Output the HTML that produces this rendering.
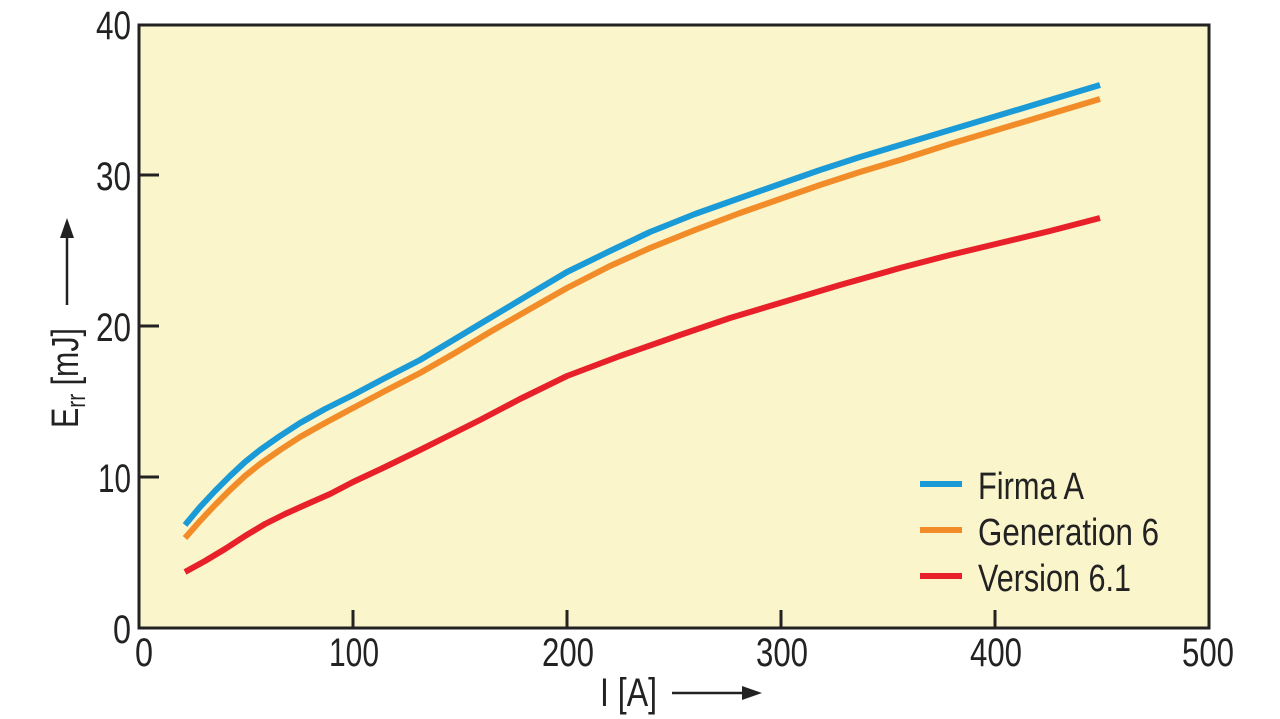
<!DOCTYPE html>
<html><head><meta charset="utf-8"><style>body{margin:0;background:#fff}svg{display:block}text{font-family:"Liberation Sans",sans-serif;fill:#222}</style></head><body>
<svg width="1280" height="719" viewBox="0 0 1280 719">
<rect x="139" y="25" width="1070" height="603" fill="#faf5cb" stroke="#222" stroke-width="3"/>
<g stroke="#222" stroke-width="3">
<line x1="139" y1="477" x2="159" y2="477"/><line x1="139" y1="326" x2="159" y2="326"/><line x1="139" y1="175" x2="159" y2="175"/>
<line x1="353" y1="628" x2="353" y2="610"/><line x1="567" y1="628" x2="567" y2="610"/><line x1="781" y1="628" x2="781" y2="610"/><line x1="995" y1="628" x2="995" y2="610"/>
</g>
<g font-size="40">
<text x="96" y="39" textLength="35" lengthAdjust="spacingAndGlyphs">40</text>
<text x="96" y="190" textLength="35" lengthAdjust="spacingAndGlyphs">30</text>
<text x="96" y="341" textLength="35" lengthAdjust="spacingAndGlyphs">20</text>
<text x="98" y="492" textLength="33" lengthAdjust="spacingAndGlyphs">10</text>
<text x="113" y="643" textLength="18" lengthAdjust="spacingAndGlyphs">0</text>
<text x="135" y="666" textLength="18" lengthAdjust="spacingAndGlyphs">0</text>
<text x="329" y="666" textLength="50" lengthAdjust="spacingAndGlyphs">100</text>
<text x="542" y="666" textLength="52" lengthAdjust="spacingAndGlyphs">200</text>
<text x="756" y="666" textLength="52" lengthAdjust="spacingAndGlyphs">300</text>
<text x="970" y="666" textLength="52" lengthAdjust="spacingAndGlyphs">400</text>
<text x="1182" y="666" textLength="52" lengthAdjust="spacingAndGlyphs">500</text>
<text x="600" y="706" textLength="57" lengthAdjust="spacingAndGlyphs">I [A]</text>
</g>
<line x1="672" y1="693" x2="745" y2="693" stroke="#222" stroke-width="2.5"/><polygon points="762,693 742,686 742,700" fill="#222"/>
<text font-size="38" transform="translate(78,428) rotate(-90) scale(0.8,1)">E<tspan font-size="26" dy="7">rr</tspan><tspan dy="-7"> [mJ]</tspan></text>
<line x1="67" y1="305" x2="67" y2="235" stroke="#222" stroke-width="2.5"/><polygon points="67,218 60,238 74,238" fill="#222"/>
<g fill="none" stroke-width="6" stroke-linejoin="round">
<polyline stroke="#1a9ad6" points="185,525 200,507 215,491 230,476 245,462 260,450 280,436 300,423 325,409 353,395 385,378 420,360 455,339 490,318 530,294 567,272 610,251 650,232 695,214 740,198 780,184 820,170 860,157 900,145 950,130 1000,115 1050,100 1100,85"/>
<polyline stroke="#f28c28" points="185,538 200,521 215,505 230,490 245,476 260,464 280,450 300,437 325,423 353,408 385,391 420,373 455,353 490,332 530,309 567,288 610,266 650,248 695,230 740,213 780,199 820,185 860,172 900,160 950,144 1000,129 1050,114 1100,99"/>
<polyline stroke="#e8202a" points="185,572 205,561 225,549 245,536 265,524 285,514 305,505 330,494 353,482 385,467 420,450 450,435 480,420 520,399 567,376 620,356 680,335 730,318 780,303 840,285 900,268 950,255 1000,243 1050,231 1100,218"/>
<line x1="920" y1="484" x2="962" y2="484" stroke="#1a9ad6"/>
<line x1="920" y1="530" x2="962" y2="530" stroke="#f28c28"/>
<line x1="920" y1="576" x2="962" y2="576" stroke="#e8202a"/>
</g>
<g font-size="38">
<text x="978" y="499" textLength="106" lengthAdjust="spacingAndGlyphs">Firma A</text>
<text x="978" y="545" textLength="181" lengthAdjust="spacingAndGlyphs">Generation 6</text>
<text x="978" y="591" textLength="153" lengthAdjust="spacingAndGlyphs">Version 6.1</text>
</g>
</svg>
</body></html>
